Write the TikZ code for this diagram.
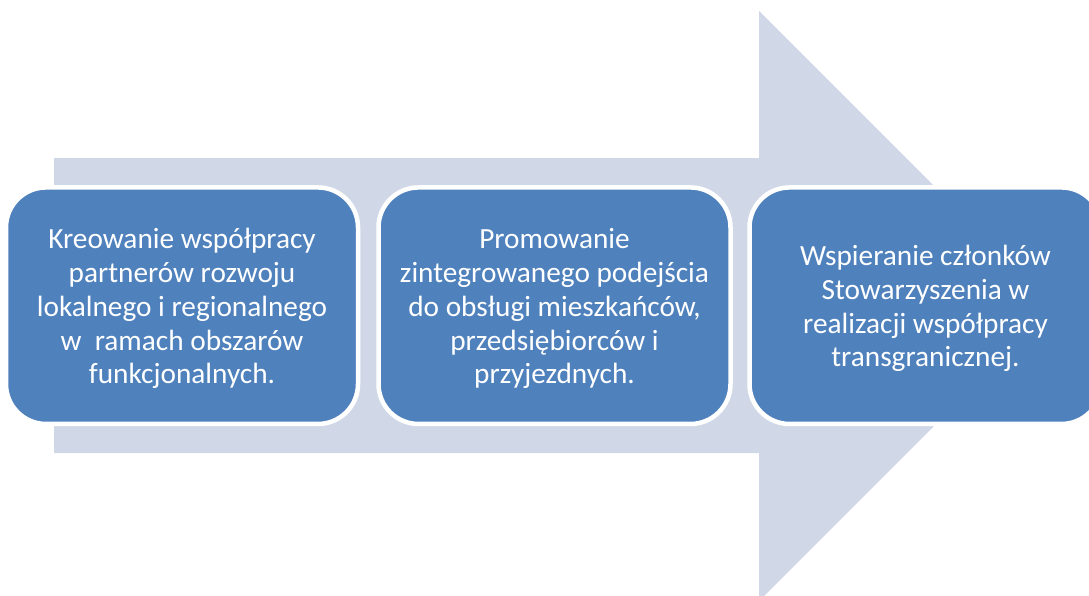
\documentclass[tikz,border=0pt]{standalone}
\usepackage{fontspec}
\setmainfont{Carlito}
\definecolor{arrowfill}{HTML}{D0D8E8}
\definecolor{boxfill}{HTML}{4F81BD}
\tikzset{
  stagebox/.style={draw=white, line width=4.5pt, fill=boxfill, rounded corners=40pt,
    minimum width=352pt, minimum height=236.5pt, inner sep=0pt, outer sep=0pt},
  stagetext/.style={text=white, align=center, inner sep=0pt,
    font=\fontsize{29.3pt}{33.75pt}\selectfont}
}
\begin{document}
\begin{tikzpicture}[x=1pt,y=-1pt]
\useasboundingbox (0,0) rectangle (1089,595);
\clip (0,0) rectangle (1089,595);
\fill[arrowfill] (54,158) -- (759,158) -- (759,11) -- (1054,306) -- (759,601) -- (759,453) -- (54,453) -- cycle;
\node[stagebox] (b1) at (182,305.7) {};
\node[stagebox] (b2) at (554.5,305.7) {};
\node[stagebox] (b3) at (925.5,305.7) {};
\node[stagetext] (t1) at ([yshift=-3pt]b1.center) {Kreowanie współpracy\\partnerów rozwoju\\lokalnego i regionalnego\\w\ \ ramach obszarów\\funkcjonalnych.};
\node[stagetext] (t2) at ([yshift=-3pt]b2.center) {Promowanie\\zintegrowanego podejścia\\do obsługi mieszkańców,\\przedsiębiorców i\\przyjezdnych.};
\node[stagetext] (t3) at ([yshift=-3pt]b3.center) {Wspieranie członków\\Stowarzyszenia w\\realizacji współpracy\\transgranicznej.};
\end{tikzpicture}
\end{document}
